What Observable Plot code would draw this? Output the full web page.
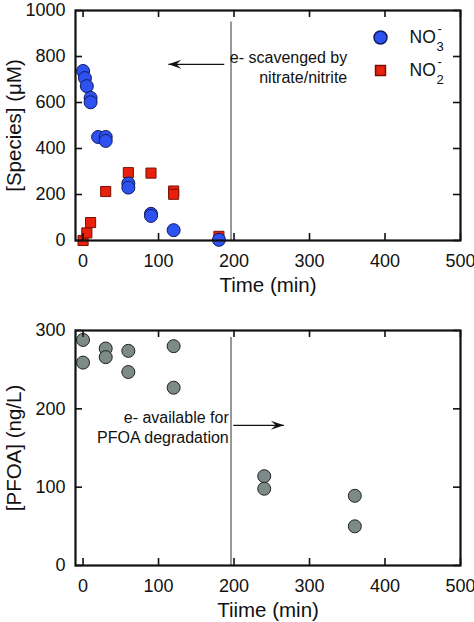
<!DOCTYPE html>
<html><head><meta charset="utf-8">
<script src="https://cdn.jsdelivr.net/npm/d3@7"></script>
<script src="https://cdn.jsdelivr.net/npm/@observablehq/plot@0.6"></script>
<style>
body{margin:0;background:#fff;font-family:"Liberation Sans",Arial,Helvetica,sans-serif}
#chart svg{display:block}
</style>
</head><body><div id="chart"></div>
<script>
// ---- data ----
const no3Time  = [0, 2.5, 5, 10, 10, 20, 30, 30, 60, 60, 90, 90, 120, 180];
const no3Value = [737, 706, 671, 620, 601, 450, 450, 433, 248, 230, 116, 107, 45, 3];
const no2Time  = [0, 5, 10, 30, 60, 90, 120, 120, 180];
const no2Value = [0, 33, 78, 213, 295, 293, 215, 201, 18];
const pfoaTime  = [0, 0, 30, 30, 60, 60, 120, 120, 240, 240, 360, 360];
const pfoaValue = [288, 259, 277, 266, 274, 247, 280, 227, 114, 98, 89, 50];
const xTicks = [0, 100, 200, 300, 400, 500];
const speciesTicks = [0, 200, 400, 600, 800, 1000];
const pfoaTicks = [0, 100, 200, 300];
const cutoffTime = 196;
const topNote = "e- scavenged by\nnitrate/nitrite";
const bottomNote = "e- available for\nPFOA degradation";
const topArrow = {x1: 187, x2: 113, y: 766};
const bottomArrow = {x1: 199, x2: 266, y: 179};
const topNoteAt = {x: 350, y: 755};
const bottomNoteAt = {x: 193, y: 177};
const topXTitle = "Time (min)", topYTitle = "[Species] (μM)";
const bottomXTitle = "Tiime (min)", bottomYTitle = "[PFOA] (ng/L)";

const no3 = no3Time.map((t, i) => ({t, v: no3Value[i]}));
const no2 = no2Time.map((t, i) => ({t, v: no2Value[i]}));
const pfoa = pfoaTime.map((t, i) => ({t, v: pfoaValue[i]}));

const font = '"Liberation Sans", Arial, Helvetica, sans-serif';
const W = 474, TL = 7, tickFont = 18, titleFont = 20.5;
const arrowHead = {draw(ctx) {const L = 13, h = 4.5; ctx.moveTo(0, 0); ctx.lineTo(-L, -h); ctx.lineTo(-0.62 * L, 0); ctx.lineTo(-L, h); ctx.closePath();}};

function boxTicks(xt, yt, fh, fw) {
  const s = {stroke: "#111", strokeWidth: 1.6};
  return [
    Plot.tickX(xt, {x: d => d, insetTop: fh - TL, ...s}),
    Plot.tickX(xt, {x: d => d, insetBottom: fh - TL, ...s}),
    Plot.tickY(yt, {y: d => d, insetRight: fw - TL, ...s}),
    Plot.tickY(yt, {y: d => d, insetLeft: fw - TL, ...s})
  ];
}
function axes(xt, yt, xTitle, yTitle) {
  return [
    Plot.axisX(xt, {tickSize: 0, tickPadding: 14, tickFormat: d => String(d), label: null, fontSize: tickFont}),
    Plot.axisY(yt, {tickSize: 0, tickPadding: 10, tickFormat: d => String(d), label: null, fontSize: tickFont}),
    Plot.text([xTitle], {frameAnchor: "bottom", dy: 45, lineAnchor: "middle", textAnchor: "middle", fontSize: titleFont, fill: "#111"}),
    Plot.text([yTitle], {frameAnchor: "left", dx: -61, rotate: -90, lineAnchor: "middle", textAnchor: "middle", fontSize: titleFont, fill: "#111"})
  ];
}

const mTop = 10, mBot = 60, mL = 75, mR = 14, H1 = 300;
const topChart = Plot.plot({
  width: W, height: H1, marginTop: mTop, marginBottom: mBot, marginLeft: mL, marginRight: mR,
  style: {fontFamily: font, fontSize: "17px", color: "#111", background: "#fff", overflow: "visible"},
  x: {domain: [-10, 500]},
  y: {domain: [0, 1000]},
  marks: [
    Plot.ruleX([cutoffTime], {y1: 950, y2: 0, stroke: "#555", strokeWidth: 1.2}),
    Plot.link([topArrow], {x1: "x1", x2: "x2", y1: "y", y2: "y", stroke: "#111", strokeWidth: 1.3}),
    Plot.dot([topArrow], {x: "x2", y: "y", symbol: arrowHead, rotate: 180, fill: "#111", stroke: "none"}),
    Plot.text([topNoteAt], {x: "x", y: "y", text: () => topNote, textAnchor: "end", lineHeight: 1.2, fontSize: 16, fill: "#111"}),
    Plot.dot(no2, {x: "t", y: "v", symbol: "square", r: 5.7, fill: "#e8200c", stroke: "#7a1005", strokeWidth: 1}),
    Plot.dot(no3, {x: "t", y: "v", r: 6.5, fill: "#2d52ef", stroke: "#111a66", strokeWidth: 1}),
    // legend
    Plot.dot([0], {frameAnchor: "top-left", dx: 380 - mL, dy: 37 - mTop, r: 6.5, fill: "#2d52ef", stroke: "#111a66"}),
    Plot.dot([0], {frameAnchor: "top-left", dx: 380 - mL, dy: 70 - mTop, symbol: "square", r: 5.6, fill: "#e8200c", stroke: "#7a1005"}),
    Plot.text(["NO"], {frameAnchor: "top-left", dx: 409 - mL, dy: 37 - mTop, lineAnchor: "middle", textAnchor: "start", fontSize: 17.5}),
    Plot.text(["3"], {frameAnchor: "top-left", dx: 436 - mL, dy: 46 - mTop, lineAnchor: "middle", textAnchor: "start", fontSize: 13}),
    Plot.text(["-"], {frameAnchor: "top-left", dx: 437 - mL, dy: 28 - mTop, lineAnchor: "middle", textAnchor: "start", fontSize: 13}),
    Plot.text(["NO"], {frameAnchor: "top-left", dx: 409 - mL, dy: 70 - mTop, lineAnchor: "middle", textAnchor: "start", fontSize: 17.5}),
    Plot.text(["2"], {frameAnchor: "top-left", dx: 436 - mL, dy: 79 - mTop, lineAnchor: "middle", textAnchor: "start", fontSize: 13}),
    Plot.text(["-"], {frameAnchor: "top-left", dx: 437 - mL, dy: 61 - mTop, lineAnchor: "middle", textAnchor: "start", fontSize: 13}),
    ...boxTicks(xTicks, speciesTicks, H1 - mTop - mBot, W - mL - mR),
    ...axes(xTicks, speciesTicks, topXTitle, topYTitle),
    Plot.frame({stroke: "#111", strokeWidth: 2.2})
  ]
});

const m2Top = 30, m2Bot = 57, H2 = 322;
const bottomChart = Plot.plot({
  width: W, height: H2, marginTop: m2Top, marginBottom: m2Bot, marginLeft: mL, marginRight: mR,
  style: {fontFamily: font, fontSize: "17px", color: "#111", background: "#fff", overflow: "visible"},
  x: {domain: [-10, 500]},
  y: {domain: [0, 300]},
  marks: [
    Plot.ruleX([cutoffTime], {y1: 0, y2: 291, stroke: "#555", strokeWidth: 1.2}),
    Plot.link([bottomArrow], {x1: "x1", x2: "x2", y1: "y", y2: "y", stroke: "#111", strokeWidth: 1.3}),
    Plot.dot([bottomArrow], {x: "x2", y: "y", symbol: arrowHead, rotate: 0, fill: "#111", stroke: "none"}),
    Plot.text([bottomNoteAt], {x: "x", y: "y", text: () => bottomNote, textAnchor: "end", lineHeight: 1.2, fontSize: 16, fill: "#111"}),
    Plot.dot(pfoa, {x: "t", y: "v", r: 6.5, fill: "#7c8a88", stroke: "#1e2222", strokeWidth: 1}),
    ...boxTicks(xTicks, pfoaTicks, H2 - m2Top - m2Bot, W - mL - mR),
    ...axes(xTicks, pfoaTicks, bottomXTitle, bottomYTitle),
    Plot.frame({stroke: "#111", strokeWidth: 2.2})
  ]
});

const chart = document.getElementById("chart");
chart.appendChild(topChart);
chart.appendChild(bottomChart);
</script>
</body></html>
